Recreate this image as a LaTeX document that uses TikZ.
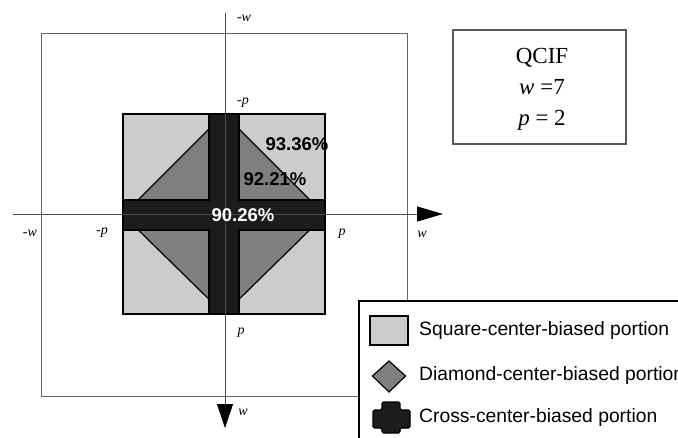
\documentclass[tikz,border=0pt]{standalone}
\usepackage{fontspec}
\setmainfont{Liberation Serif}
\setsansfont{Liberation Sans}
\usetikzlibrary{arrows.meta}
\definecolor{lgray}{HTML}{CCCCCC}
\definecolor{dgray}{HTML}{7F7F7F}
\definecolor{xblack}{HTML}{1C1C1C}
\begin{document}
\begin{tikzpicture}[x=1pt,y=-1pt,
  axislbl/.style={font=\fontsize{14}{14}\selectfont\itshape, inner sep=0pt},
  pct/.style={font=\sffamily\bfseries\fontsize{18.5}{18.5}\selectfont, inner sep=0pt},
  legtxt/.style={font=\sffamily\fontsize{19.3}{19.3}\selectfont, anchor=west, inner sep=0pt},
  axisline/.style={draw=black!70, line width=0.9pt},
  regionborder/.style={draw=black, line width=1.2pt}]
\useasboundingbox (0,0) rectangle (678,437);
\fill[white] (0,0) rectangle (678,437);
% outer square
\draw[draw=black!60, line width=1pt] (41,33) rectangle (407,396);
% inner square
\draw[regionborder, fill=lgray] (123,114) rectangle (325,314);
% diamond
\draw[regionborder, fill=dgray] (224,114) -- (325,215) -- (224,314) -- (123,215) -- cycle;
% cross
\draw[regionborder, fill=xblack] (209,114) -- (239,114) -- (239,200) -- (325,200) -- (325,230)
  -- (239,230) -- (239,314) -- (209,314) -- (209,230) -- (123,230) -- (123,200) -- (209,200) -- cycle;
% axes
\coordinate (xl) at (13,214);
\coordinate (xr) at (443,214);
\coordinate (yt) at (225,13);
\coordinate (yb) at (225,428);
\draw[axisline, -{Triangle[length=26pt,width=15pt,black]}] (xl) -- (xr);
\draw[axisline, -{Triangle[length=24pt,width=16pt,black]}] (yt) -- (yb);
% axis labels
\node[axislbl] (lwt) at (244,18) {-w};
\node[axislbl] (lpt) at (243,103) {-p};
\node[axislbl] (lwl) at (30,233) {-w};
\node[axislbl] (lpl) at (102,233) {-p};
\node[axislbl] (lpr) at (342,234) {p};
\node[axislbl] (lwr) at (422,234) {w};
\node[axislbl] (lpb) at (241,333) {p};
\node[axislbl] (lwb) at (243,412) {w};
% percentages
\node[pct] (p1) at (297,144) {93.36\%};
\node[pct] (p2) at (275,179) {92.21\%};
\node[pct, text=white] (p3) at (243,215) {90.26\%};
% QCIF box
\draw[draw=black!65, line width=1.3pt] (453,30) rectangle (626,144);
\node[align=center, font=\fontsize{23}{31}\selectfont, inner sep=0pt] (qcif) at (542,89)
  {QCIF\\ \textit{w} =7\\ \textit{p} = 2};
% legend
\draw[draw=black, line width=1.3pt, fill=white] (359,301) rectangle (690,450);
\draw[regionborder, fill=lgray] (370,316) rectangle (408,345);
\node[legtxt] (t1) at (419,331) {Square-center-biased portion};
\draw[regionborder, fill=dgray] (389,361) -- (405.5,376) -- (389,392) -- (372.5,376) -- cycle;
\node[legtxt] (t2) at (419,376) {Diamond-center-biased portion};
\draw[regionborder, fill=xblack, rounded corners=1.5pt] (382,402) -- (400,402) -- (400,410) -- (410,410) -- (410,428)
  -- (400,428) -- (400,433) -- (382,433) -- (382,428) -- (373,428) -- (373,410) -- (382,410) -- cycle;
\node[legtxt] (t3) at (419,418) {Cross-center-biased portion};
\end{tikzpicture}
\end{document}
